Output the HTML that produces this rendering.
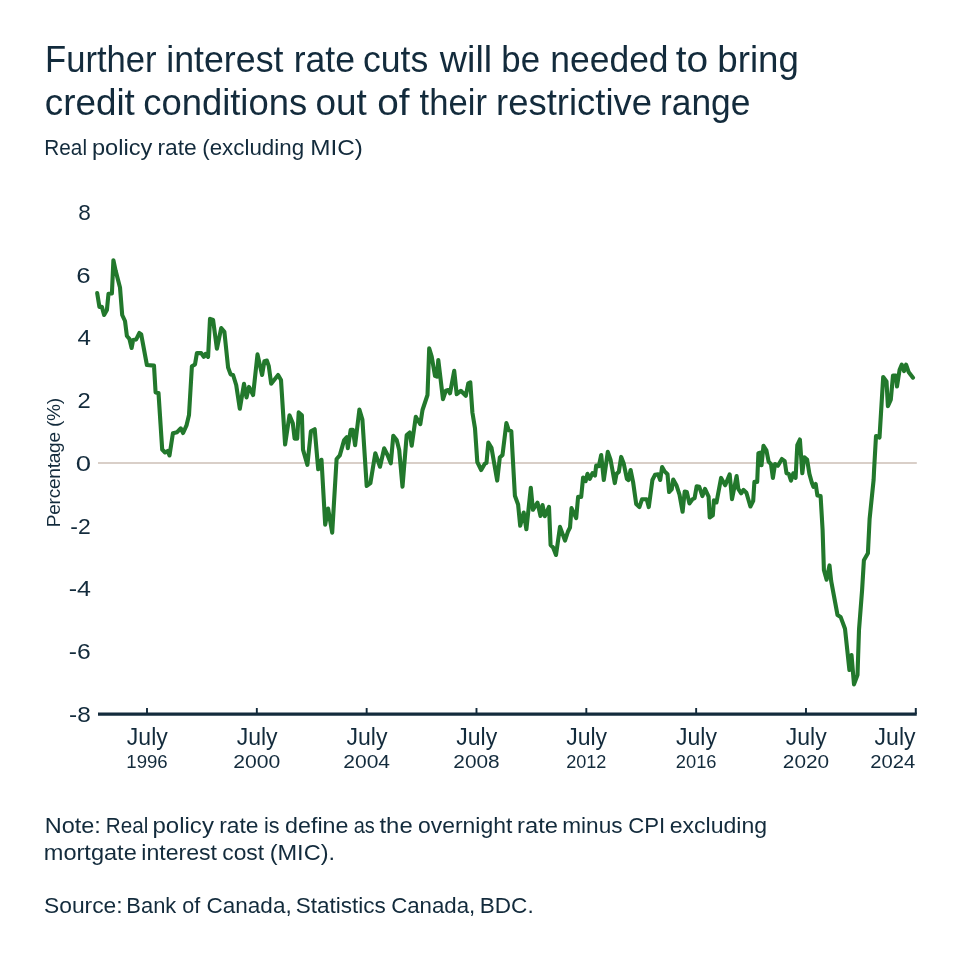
<!DOCTYPE html>
<html><head><meta charset="utf-8"><style>
html,body{margin:0;padding:0;background:#fff;width:960px;height:960px;overflow:hidden}
svg{display:block;will-change:transform}
text{font-family:"Liberation Sans",sans-serif;fill:#132b3c}
</style></head><body>
<svg width="960" height="960" viewBox="0 0 960 960">
<rect width="960" height="960" fill="#fff"/>
<text transform="translate(45.04,72) scale(0.9559,1)" font-size="36.2">Further</text><text transform="translate(166.25,72) scale(0.9873,1)" font-size="36.2">interest</text><text transform="translate(293.63,72) scale(0.9834,1)" font-size="36.2">rate</text><text transform="translate(363.00,72) scale(0.9841,1)" font-size="36.2">cuts</text><text transform="translate(439.76,72) scale(1.0426,1)" font-size="36.2">will</text><text transform="translate(501.37,72) scale(0.9603,1)" font-size="36.2">be</text><text transform="translate(550.35,72) scale(0.9788,1)" font-size="36.2">needed</text><text transform="translate(675.66,72) scale(1.0724,1)" font-size="36.2">to</text><text transform="translate(717.35,72) scale(1.0138,1)" font-size="36.2">bring</text>
<text transform="translate(44.73,115.2) scale(1.0177,1)" font-size="36.2">credit</text><text transform="translate(143.17,115.2) scale(1.0065,1)" font-size="36.2">conditions</text><text transform="translate(315.47,115.2) scale(1.0208,1)" font-size="36.2">out</text><text transform="translate(377.16,115.2) scale(1.0695,1)" font-size="36.2">of</text><text transform="translate(419.61,115.2) scale(0.9567,1)" font-size="36.2">their</text><text transform="translate(496.08,115.2) scale(1.0068,1)" font-size="36.2">restrictive</text><text transform="translate(659.95,115.2) scale(0.9775,1)" font-size="36.2">range</text>
<text transform="translate(44.34,155.2) scale(0.9103,1)" font-size="22.8">Real</text><text transform="translate(91.90,155.2) scale(1.0357,1)" font-size="22.8">policy</text><text transform="translate(157.47,155.2) scale(1.0009,1)" font-size="22.8">rate</text><text transform="translate(202.24,155.2) scale(0.9803,1)" font-size="22.8">(excluding</text><text transform="translate(310.27,155.2) scale(1.0661,1)" font-size="22.8">MIC)</text>
<text transform="translate(44.70,832.9) scale(1.0298,1)" font-size="22.8">Note:</text><text transform="translate(105.87,832.9) scale(0.9076,1)" font-size="22.8">Real</text><text transform="translate(152.50,832.9) scale(1.0535,1)" font-size="22.8">policy</text><text transform="translate(219.18,832.9) scale(1.0029,1)" font-size="22.8">rate</text><text transform="translate(263.98,832.9) scale(0.9430,1)" font-size="22.8">is</text><text transform="translate(285.10,832.9) scale(1.0202,1)" font-size="22.8">define</text><text transform="translate(353.63,832.9) scale(0.8774,1)" font-size="22.8">as</text><text transform="translate(379.47,832.9) scale(1.0477,1)" font-size="22.8">the</text><text transform="translate(417.97,832.9) scale(1.0059,1)" font-size="22.8">overnight</text><text transform="translate(517.00,832.9) scale(1.0432,1)" font-size="22.8">rate</text><text transform="translate(562.26,832.9) scale(0.9919,1)" font-size="22.8">minus</text><text transform="translate(628.20,832.9) scale(0.9731,1)" font-size="22.8">CPI</text><text transform="translate(669.77,832.9) scale(1.0110,1)" font-size="22.8">excluding</text>
<text transform="translate(43.74,859.7) scale(1.0343,1)" font-size="22.8">mortgate</text><text transform="translate(141.25,859.7) scale(1.0141,1)" font-size="22.8">interest</text><text transform="translate(222.27,859.7) scale(1.0007,1)" font-size="22.8">cost</text><text transform="translate(269.63,859.7) scale(1.0342,1)" font-size="22.8">(MIC).</text>
<text transform="translate(44.00,912.7) scale(1.0000,1)" font-size="22.8">Source:</text><text transform="translate(126.36,912.7) scale(0.9605,1)" font-size="22.8">Bank</text><text transform="translate(182.34,912.7) scale(0.9483,1)" font-size="22.8">of</text><text transform="translate(206.51,912.7) scale(0.9882,1)" font-size="22.8">Canada,</text><text transform="translate(295.71,912.7) scale(0.9890,1)" font-size="22.8">Statistics</text><text transform="translate(391.13,912.7) scale(0.9761,1)" font-size="22.8">Canada,</text><text transform="translate(479.70,912.7) scale(0.9908,1)" font-size="22.8">BDC.</text>

<g font-size="22"><text transform="translate(90.70,220.00) scale(1.027,1)" text-anchor="end">8</text><text transform="translate(90.70,282.70) scale(1.175,1)" text-anchor="end">6</text><text transform="translate(91.00,345.40) scale(1.100,1)" text-anchor="end">4</text><text transform="translate(90.70,408.10) scale(1.080,1)" text-anchor="end">2</text><text transform="translate(91.00,470.80) scale(1.250,1)" text-anchor="end">0</text><text transform="translate(90.70,533.50) scale(1.044,1)" text-anchor="end">-2</text><text transform="translate(91.00,596.20) scale(1.139,1)" text-anchor="end">-4</text><text transform="translate(90.70,658.90) scale(1.122,1)" text-anchor="end">-6</text><text transform="translate(90.80,721.60) scale(1.111,1)" text-anchor="end">-8</text></g>
<text transform="translate(60.2,462.6) rotate(-90)" text-anchor="middle" font-size="19.2" textLength="129.5" lengthAdjust="spacing">Percentage (%)</text>
<line x1="98" y1="462.9" x2="916.8" y2="462.9" stroke="#d9cfc8" stroke-width="2"/>
<path d="M97.2,293.1 L99.4,306.9 L101.9,306.9 L104.1,315.0 L106.9,310.0 L108.5,293.8 L111.9,293.5 L113.4,260.2 L115.6,270.6 L120.0,287.5 L122.2,315.0 L125.0,321.0 L126.9,336.0 L129.4,338.8 L131.6,348.0 L133.1,340.0 L136.2,339.4 L139.4,333.0 L141.2,334.4 L146.9,365.0 L154.0,365.6 L155.6,392.5 L158.5,393.0 L162.2,449.5 L165.1,452.5 L167.7,451.0 L169.5,455.5 L172.9,433.2 L177.1,432.2 L180.7,428.3 L183.1,433.0 L186.5,425.4 L189.0,415.0 L191.9,366.2 L195.0,364.4 L196.9,353.1 L201.2,353.1 L203.8,356.9 L205.6,353.8 L208.1,356.9 L210.0,318.8 L213.1,320.0 L216.9,348.8 L221.2,328.1 L224.4,331.9 L228.1,367.5 L230.6,374.4 L233.1,375.0 L236.2,385.0 L239.8,408.8 L244.0,383.8 L246.5,397.5 L249.0,386.9 L253.1,395.0 L257.5,354.4 L262.1,375.0 L264.4,361.2 L266.9,360.6 L268.8,366.2 L271.2,383.8 L278.1,375.0 L281.0,380.0 L285.1,444.5 L289.5,415.3 L292.8,423.3 L294.6,438.6 L297.2,438.6 L298.7,412.4 L301.9,415.3 L303.0,449.6 L307.4,464.9 L310.9,431.3 L314.7,429.2 L318.2,469.2 L321.5,459.8 L325.2,524.6 L328.1,508.6 L332.2,532.7 L336.6,459.0 L339.8,455.4 L344.1,440.1 L346.8,437.2 L347.8,448.1 L350.7,429.9 L352.9,429.9 L355.1,445.2 L359.4,409.5 L362.4,419.7 L366.7,486.0 L370.4,483.1 L375.3,453.3 L380.0,466.7 L384.2,448.3 L387.5,455.0 L390.8,463.3 L393.3,435.8 L396.7,440.0 L399.2,450.0 L402.5,486.7 L406.7,435.0 L409.7,432.5 L411.7,445.8 L415.8,416.7 L420.3,424.2 L422.5,410.0 L427.5,395.0 L429.2,348.3 L431.7,356.7 L435.0,375.8 L437.0,376.7 L438.3,360.0 L443.0,399.2 L445.8,390.8 L448.3,390.0 L450.0,393.3 L454.2,370.8 L456.7,394.2 L460.8,390.8 L465.8,395.8 L468.3,383.3 L470.3,382.4 L472.4,412.5 L475.0,428.4 L477.3,462.0 L481.2,470.0 L484.8,463.8 L486.5,462.9 L488.3,442.6 L491.5,447.9 L497.2,480.6 L499.8,457.6 L502.5,455.0 L506.4,423.1 L508.7,430.2 L511.3,431.1 L514.9,495.7 L518.1,504.5 L520.2,525.8 L523.7,512.5 L526.4,529.3 L530.8,487.7 L532.9,509.8 L537.5,502.7 L540.5,516.0 L542.5,505.0 L544.8,516.2 L549.0,506.9 L550.6,545.0 L553.1,547.5 L556.0,555.0 L560.0,526.9 L565.0,540.6 L568.1,531.2 L570.0,527.5 L571.5,508.1 L576.2,518.1 L578.1,496.9 L581.2,496.9 L583.1,477.5 L585.6,481.2 L587.5,473.8 L589.8,478.8 L592.5,473.1 L595.0,475.6 L596.2,465.6 L598.8,466.2 L601.2,455.0 L603.8,480.0 L607.8,451.9 L610.6,460.0 L614.8,483.1 L616.5,473.8 L618.8,471.9 L621.2,456.9 L623.8,463.8 L626.9,478.8 L628.5,480.0 L630.6,470.0 L633.1,482.1 L636.2,504.0 L639.4,507.1 L642.0,499.3 L646.7,499.3 L648.8,507.1 L652.4,480.0 L655.0,474.8 L658.1,474.3 L660.2,480.0 L662.1,467.0 L664.4,471.1 L667.5,474.3 L669.1,492.0 L671.7,489.4 L673.2,479.5 L676.4,485.2 L679.5,494.6 L682.6,511.8 L684.7,491.5 L686.8,492.0 L689.4,503.4 L692.5,499.3 L694.6,498.2 L696.7,486.2 L699.3,486.8 L702.4,496.1 L705.0,488.9 L708.6,496.7 L709.7,517.5 L712.8,515.4 L713.9,500.3 L716.5,502.4 L721.1,477.9 L725.2,485.3 L729.7,474.4 L732.0,499.1 L736.6,476.1 L738.3,488.8 L741.2,493.3 L743.5,489.9 L746.4,492.8 L750.4,506.5 L753.2,500.8 L754.4,481.9 L757.2,481.9 L758.4,453.2 L760.1,452.7 L761.5,465.3 L763.5,445.8 L766.4,450.4 L768.7,461.8 L771.0,464.1 L772.9,477.9 L775.0,464.1 L777.9,465.8 L781.9,459.0 L784.7,461.2 L786.5,473.3 L788.8,473.9 L791.0,480.7 L793.3,473.3 L795.6,477.9 L797.3,445.2 L799.9,439.5 L802.3,473.3 L804.2,457.2 L807.1,459.5 L809.4,473.9 L811.7,482.3 L813.4,486.9 L815.7,484.0 L817.4,495.5 L820.6,496.0 L822.6,530.0 L823.9,570.0 L826.6,579.7 L829.5,565.4 L831.2,581.2 L837.5,615.0 L840.6,616.9 L845.0,628.8 L849.4,670.0 L851.5,655.0 L854.0,684.4 L857.5,675.0 L859.0,630.0 L862.1,590.0 L863.9,560.2 L867.9,553.3 L869.6,519.0 L873.6,480.0 L874.1,469.6 L876.0,436.0 L879.5,437.5 L883.2,377.0 L886.5,381.4 L887.9,406.1 L890.8,399.6 L893.0,375.5 L895.9,375.5 L897.0,386.5 L899.6,369.7 L901.8,364.6 L904.0,371.1 L906.1,364.6 L908.6,371.9 L913.0,377.7" fill="none" stroke="#22782c" stroke-width="4.1" stroke-linejoin="round" stroke-linecap="round"/>
<line x1="98" y1="714.2" x2="916.75" y2="714.2" stroke="#132b3c" stroke-width="3.3"/>
<line x1="147.0" y1="708" x2="147.0" y2="714" stroke="#132b3c" stroke-width="1.9"/><text x="147.30" y="744.6" text-anchor="middle" font-size="23">July</text><text transform="translate(147.00,767.9) scale(0.990,1)" text-anchor="middle" font-size="18.8">1996</text><line x1="256.83" y1="708" x2="256.83" y2="714" stroke="#132b3c" stroke-width="1.9"/><text x="257.13" y="744.6" text-anchor="middle" font-size="23">July</text><text transform="translate(256.83,767.9) scale(1.125,1)" text-anchor="middle" font-size="18.8">2000</text><line x1="366.66" y1="708" x2="366.66" y2="714" stroke="#132b3c" stroke-width="1.9"/><text x="366.96" y="744.6" text-anchor="middle" font-size="23">July</text><text transform="translate(366.66,767.9) scale(1.120,1)" text-anchor="middle" font-size="18.8">2004</text><line x1="476.49" y1="708" x2="476.49" y2="714" stroke="#132b3c" stroke-width="1.9"/><text x="476.79" y="744.6" text-anchor="middle" font-size="23">July</text><text transform="translate(476.49,767.9) scale(1.107,1)" text-anchor="middle" font-size="18.8">2008</text><line x1="586.32" y1="708" x2="586.32" y2="714" stroke="#132b3c" stroke-width="1.9"/><text x="586.62" y="744.6" text-anchor="middle" font-size="23">July</text><text transform="translate(586.32,767.9) scale(0.963,1)" text-anchor="middle" font-size="18.8">2012</text><line x1="696.15" y1="708" x2="696.15" y2="714" stroke="#132b3c" stroke-width="1.9"/><text x="696.45" y="744.6" text-anchor="middle" font-size="23">July</text><text transform="translate(696.15,767.9) scale(0.975,1)" text-anchor="middle" font-size="18.8">2016</text><line x1="805.98" y1="708" x2="805.98" y2="714" stroke="#132b3c" stroke-width="1.9"/><text x="806.28" y="744.6" text-anchor="middle" font-size="23">July</text><text transform="translate(805.98,767.9) scale(1.107,1)" text-anchor="middle" font-size="18.8">2020</text><line x1="915.8" y1="708" x2="915.8" y2="714" stroke="#132b3c" stroke-width="2"/><text x="915.5" y="744.6" text-anchor="end" font-size="23">July</text><text transform="translate(915.3,767.9) scale(1.075,1)" text-anchor="end" font-size="18.8">2024</text>
</svg>
</body></html>
